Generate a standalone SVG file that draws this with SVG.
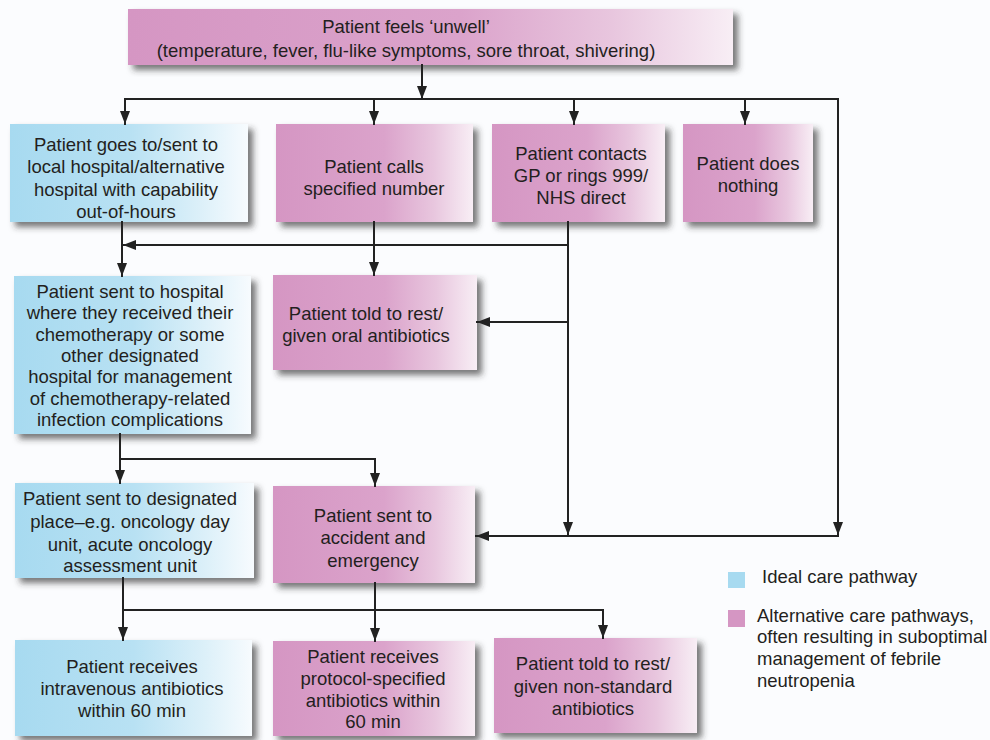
<svg xmlns="http://www.w3.org/2000/svg" width="990" height="740" viewBox="0 0 990 740">
<defs>
<linearGradient id="gp" x1="0" y1="0" x2="1" y2="0">
<stop offset="0" stop-color="#d596c3"/>
<stop offset="0.55" stop-color="#dba3cb"/>
<stop offset="0.8" stop-color="#e8c6de"/>
<stop offset="1" stop-color="#f8eef5"/>
</linearGradient>
<linearGradient id="gb" x1="0" y1="0" x2="1" y2="0">
<stop offset="0" stop-color="#a7daf0"/>
<stop offset="0.5" stop-color="#b8e1f3"/>
<stop offset="0.8" stop-color="#dcf0f9"/>
<stop offset="1" stop-color="#f7fbfe"/>
</linearGradient>
<filter id="sh" x="-10%" y="-10%" width="125%" height="130%">
<feDropShadow dx="5" dy="5" stdDeviation="3" flood-color="#333" flood-opacity="0.65"/>
</filter>
<marker id="ah" markerUnits="userSpaceOnUse" markerWidth="14" markerHeight="11" refX="13" refY="5" orient="auto">
<path d="M0,0 L13,5 L0,10 Z" fill="#222"/>
</marker>
</defs>
<style>
.p{fill:url(#gp);filter:url(#sh)}
.b{fill:url(#gb);filter:url(#sh)}
text{font-family:"Liberation Sans",Arial,sans-serif;font-size:18.5px;fill:#231f20;text-anchor:middle}
.lg{text-anchor:start;font-size:18.5px}
.c path{fill:none;stroke:#222;stroke-width:2;stroke-linecap:square}
.a{marker-end:url(#ah)}
</style>
<rect width="990" height="740" fill="#fbfcfe"/>

<g id="n-top">
<rect class="p" x="128" y="9" width="605" height="56"/>
<text x="406" y="33">Patient feels ‘unwell’</text>
<text x="406" y="57">(temperature, fever, flu-like symptoms, sore throat, shivering)</text>
</g>
<g id="n-local">
<rect class="b" x="10" y="124" width="238" height="98"/>
<text x="126" y="151">Patient goes to/sent to</text>
<text x="126" y="173">local hospital/alternative</text>
<text x="126" y="196">hospital with capability</text>
<text x="126" y="218">out-of-hours</text>
</g>
<g id="n-calls">
<rect class="p" x="276" y="124" width="197" height="98"/>
<text x="374" y="173">Patient calls</text>
<text x="374" y="195">specified number</text>
</g>
<g id="n-gp">
<rect class="p" x="492" y="124" width="173" height="98"/>
<text x="581" y="160">Patient contacts</text>
<text x="581" y="182">GP or rings 999/</text>
<text x="581" y="204">NHS direct</text>
</g>
<g id="n-nothing">
<rect class="p" x="683" y="124" width="130" height="98"/>
<text x="748" y="170">Patient does</text>
<text x="748" y="192">nothing</text>
</g>
<g id="n-hospital">
<rect class="b" x="14" y="276" width="237" height="158"/>
<text x="130" y="298">Patient sent to hospital</text>
<text x="130" y="319">where they received their</text>
<text x="130" y="341">chemotherapy or some</text>
<text x="130" y="362">other designated</text>
<text x="130" y="383">hospital for management</text>
<text x="130" y="405">of chemotherapy-related</text>
<text x="130" y="426">infection complications</text>
</g>
<g id="n-rest-oral">
<rect class="p" x="273" y="275" width="204" height="95"/>
<text x="366" y="320">Patient told to rest/</text>
<text x="366" y="342">given oral antibiotics</text>
</g>
<g id="n-designated">
<rect class="b" x="15" y="483" width="239" height="95"/>
<text x="130" y="505">Patient sent to designated</text>
<text x="130" y="528">place–e.g. oncology day</text>
<text x="130" y="551">unit, acute oncology</text>
<text x="130" y="572">assessment unit</text>
</g>
<g id="n-ae">
<rect class="p" x="273" y="486" width="202" height="97"/>
<text x="373" y="522">Patient sent to</text>
<text x="373" y="544">accident and</text>
<text x="373" y="567">emergency</text>
</g>
<g id="n-iv">
<rect class="b" x="15" y="640" width="237" height="96"/>
<text x="132" y="673">Patient receives</text>
<text x="132" y="695">intravenous antibiotics</text>
<text x="132" y="717">within 60 min</text>
</g>
<g id="n-protocol">
<rect class="p" x="273" y="641" width="202" height="95"/>
<text x="373" y="663">Patient receives</text>
<text x="373" y="685">protocol-specified</text>
<text x="373" y="707">antibiotics within</text>
<text x="373" y="728">60 min</text>
</g>
<g id="n-nonstandard">
<rect class="p" x="494" y="638" width="203" height="95"/>
<text x="593" y="670">Patient told to rest/</text>
<text x="593" y="693">given non-standard</text>
<text x="593" y="715">antibiotics</text>
</g>

<g id="connectors" class="c">
<path class="a" d="M422,65 V99"/>
<path d="M125,99 H838"/>
<path class="a" d="M125,99 V124"/>
<path class="a" d="M374,99 V124"/>
<path class="a" d="M574,99 V124"/>
<path class="a" d="M745,99 V124"/>
<path class="a" d="M838,99 V535"/>
<path class="a" d="M838,536 H476"/>
<path class="a" d="M122,222 V276"/>
<path class="a" d="M568,222 V535"/>
<path class="a" d="M568,245 H123"/>
<path class="a" d="M374,222 V275"/>
<path class="a" d="M568,322 H477"/>
<path class="a" d="M120,434 V483"/>
<path class="a" d="M120,459 H375 V486"/>
<path class="a" d="M123,578 V640"/>
<path class="a" d="M375,583 V641"/>
<path class="a" d="M123,610 H603 V638"/>
</g>

<g id="legend">
<rect x="728" y="572" width="17" height="16" fill="#a7daf0"/>
<text class="lg" x="762" y="583">Ideal care pathway</text>
<rect x="728" y="610" width="17" height="17" fill="#d596c3"/>
<text class="lg" x="757" y="622">Alternative care pathways,</text>
<text class="lg" x="757" y="643">often resulting in suboptimal</text>
<text class="lg" x="757" y="665">management of febrile</text>
<text class="lg" x="757" y="687">neutropenia</text>
</g>
</svg>
